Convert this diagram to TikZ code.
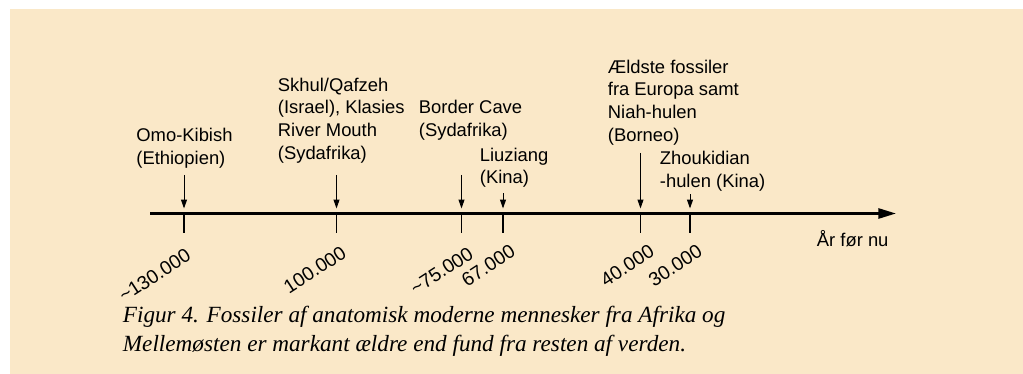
\documentclass[tikz,border=0pt]{standalone}
\usepackage{fontspec}
\setmainfont{Liberation Sans}
\newfontfamily\capfont{Liberation Serif}
\usetikzlibrary{arrows.meta}
\definecolor{bg}{RGB}{250,232,200}
\begin{document}
\begin{tikzpicture}[x=0.5pt,y=-0.5pt,
 lbl/.style={anchor=base west, inner sep=0pt, align=left, font=\fontsize{9.2}{11.4}\selectfont},
 num/.style={anchor=north east, inner sep=0pt, rotate=33, font=\fontsize{9.65}{11}\selectfont},
 pointer/.style={line width=0.5pt, -{Triangle[length=4.5pt,width=3pt]}},
 tickline/.style={line width=0.7pt},
 axisline/.style={line width=1.3pt, -{Triangle[length=8.8pt,width=5pt]}}]
\useasboundingbox (0,0) rectangle (1023,374);
\fill[bg] (10,9) rectangle (1023,374);

% axis
\coordinate (a0) at (150,213.5);
\coordinate (a1) at (896,213.5);
\draw[axisline] (a0) -- (a1);

% ticks
\foreach \n/\x in {1/184,2/336.5,3/461.5,4/503,5/640.5,6/690}{
  \coordinate (t\n) at (\x,213.5);
  \coordinate (b\n) at (\x,232.5);
  \draw[tickline] (t\n) -- (b\n);
}

% pointers
\foreach \n/\x/\s in {1/184/175,2/336.5/175,3/461.5/175,4/503/193,5/640.5/153,6/690/194}{
  \coordinate (p\n) at (\x,\s);
  \coordinate (q\n) at (\x,208.5);
  \draw[pointer] (p\n) -- (q\n);
}

% event labels (anchored at the baseline of their last line)
\node[lbl] (omo) at (136,164.3) {Omo-Kibish\\(Ethiopien)};
\node[lbl] (skhul) at (277.5,159.5) {Skhul/Qafzeh\\(Israel), Klasies\\River Mouth\\(Sydafrika)};
\node[lbl] (border) at (418.5,136.5) {Border Cave\\(Sydafrika)};
\node[lbl] (liu) at (479.5,184) {Liuziang\\(Kina)};
\node[lbl] (aeld) at (607.5,141.5) {Ældste fossiler\\fra Europa samt\\Niah-hulen\\(Borneo)};
\node[lbl] (zhou) at (659.5,187.5) {Zhoukidian\\-hulen (Kina)};
\node[lbl] (unit) at (816.5,246.5) {År før nu};

% year labels
\node[num] (n1) at (185,247) {\char"7E 130.000};
\node[num] (n2) at (340.5,244.5) {100.000};
\node[num] (n3) at (467.5,245.5) {\char"7E 75.000};
\node[num] (n4) at (509.5,243) {67.000};
\node[num] (n5) at (648.5,243) {40.000};
\node[num] (n6) at (696.5,243) {30.000};

% caption (anchored at the baseline of its last line)
\node[anchor=base west, inner sep=0pt, align=left,
      font=\capfont\itshape\fontsize{11.6}{14.5}\selectfont] (cap) at (122.5,351)
  {Figur 4. Fossiler af anatomisk moderne mennesker fra Afrika og\\Mellemøsten er markant ældre end fund fra resten af verden.};
\end{tikzpicture}
\end{document}
